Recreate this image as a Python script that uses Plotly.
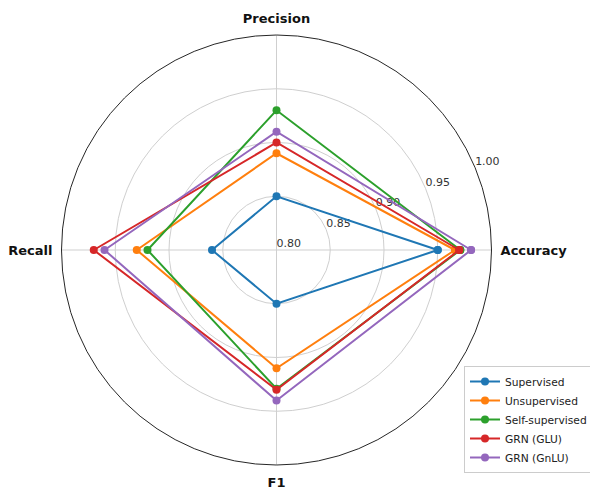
import plotly.graph_objects as go

# Metrics shown around the radar, counter-clockwise starting from the right
metrics = ["Accuracy", "Precision", "Recall", "F1"]

# Scores per training strategy, same order as `metrics`
supervised = [0.950, 0.850, 0.860, 0.850]
unsupervised = [0.966, 0.890, 0.930, 0.910]
self_supervised = [0.971, 0.930, 0.920, 0.929]
grn_glu = [0.970, 0.900, 0.970, 0.930]
grn_gnlu = [0.981, 0.910, 0.960, 0.940]

series_names = ["Supervised", "Unsupervised", "Self-supervised", "GRN (GLU)", "GRN (GnLU)"]
series_values = [supervised, unsupervised, self_supervised, grn_glu, grn_gnlu]
colors = ["#1f77b4", "#ff7f0e", "#2ca02c", "#d62728", "#9467bd"]

radial_ticks = [0.80, 0.85, 0.90, 0.95, 1.00]
radial_label_angle = 22.5

# one spoke per metric, evenly spaced
angles = [i * 360 / len(metrics) for i in range(len(metrics))]

fig = go.Figure()

# radial tick labels, laid along a spoke beneath the series
fig.add_trace(go.Scatterpolar(
    r=radial_ticks,
    theta=[radial_label_angle] * len(radial_ticks),
    mode="text",
    text=[f"{v:.2f}" for v in radial_ticks],
    textposition="top right",
    textfont=dict(family="DejaVu Sans", size=11, color="#333333"),
    showlegend=False,
    hoverinfo="skip",
    cliponaxis=False,
))

for name, vals, col in zip(series_names, series_values, colors):
    fig.add_trace(go.Scatterpolar(
        r=vals + vals[:1],
        theta=angles + angles[:1],
        mode="lines+markers",
        name=name,
        line=dict(color=col, width=2),
        marker=dict(color=col, size=8),
    ))

W, H = 590, 489
cx, cy, R = 276.5, 250.0, 215.0

fig.update_layout(
    width=W,
    height=H,
    margin=dict(l=0, r=0, t=0, b=0, autoexpand=False),
    paper_bgcolor="white",
    plot_bgcolor="white",
    font=dict(family="DejaVu Sans", color="#333333"),
    polar=dict(
        domain=dict(
            x=[(cx - R) / W, (cx + R) / W],
            y=[(H - cy - R) / H, (H - cy + R) / H],
        ),
        bgcolor="white",
        angularaxis=dict(
            type="linear",
            thetaunit="degrees",
            tickmode="array",
            tickvals=angles,
            ticktext=metrics,
            rotation=0,
            direction="counterclockwise",
            showline=True,
            linecolor="#262626",
            linewidth=1,
            showgrid=True,
            gridcolor="#cfcfcf",
            gridwidth=1,
            ticks="outside",
            ticklen=6,
            tickcolor="rgba(0,0,0,0)",
            tickfont=dict(family="DejaVu Sans", size=13, color="#111111", weight="bold"),
        ),
        radialaxis=dict(
            range=[0.80, 1.00],
            tickvals=radial_ticks,
            showticklabels=False,
            angle=radial_label_angle,
            showline=False,
            ticks="",
            showgrid=True,
            gridcolor="#cfcfcf",
            gridwidth=1,
            layer="below traces",
        ),
    ),
    showlegend=True,
    legend=dict(
        x=464 / W,
        y=1 - 366 / H,
        xanchor="left",
        yanchor="top",
        bgcolor="white",
        bordercolor="#cccccc",
        borderwidth=1,
        font=dict(family="DejaVu Sans", size=10.7, color="#222222"),
        itemwidth=30,
        tracegroupgap=0,
    ),
)

fig.write_html("out.html")
